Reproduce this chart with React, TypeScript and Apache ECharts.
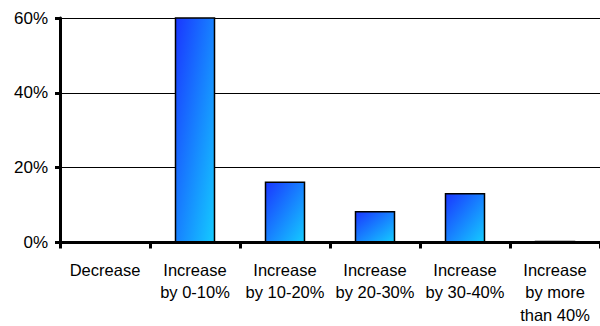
import React, { useEffect, useRef } from "react";
import * as echarts from "echarts";

const categories = [
  "Decrease",
  "Increase\nby 0-10%",
  "Increase\nby 10-20%",
  "Increase\nby 20-30%",
  "Increase\nby 30-40%",
  "Increase\nby more\nthan 40%",
];
const values = [0, 60.5, 16.3, 8.4, 13.2, 0.5];
const yTicks = [0, 20, 40, 60];

export default function App() {
  const ref = useRef<HTMLDivElement>(null);
  useEffect(() => {
    if (!ref.current) return;
    const chart = echarts.init(ref.current, null, { renderer: "svg" });
    chart.setOption({
      animation: false,
      grid: { left: 60, top: 18, width: 550, height: 226 },
      xAxis: {
        type: "category",
        data: categories,
        axisLine: { lineStyle: { color: "#000", width: 3 } },
        axisTick: { show: true, length: 6, lineStyle: { color: "#000", width: 3 } },
        axisLabel: {
          color: "#000",
          fontFamily: "Liberation Sans, Arial, sans-serif",
          fontSize: 16.5,
          lineHeight: 22.5,
          margin: 16,
          interval: 0,
        },
      },
      yAxis: {
        type: "value",
        min: 0,
        max: 60,
        interval: 20,
        axisLine: { show: true, lineStyle: { color: "#000", width: 3 } },
        axisTick: { show: true, length: 5, lineStyle: { color: "#000", width: 3 } },
        axisLabel: {
          color: "#000",
          fontFamily: "Liberation Sans, Arial, sans-serif",
          fontSize: 17,
          margin: 12,
          formatter: (v: number) => (yTicks.includes(v) ? v + "%" : ""),
        },
        splitLine: { show: true, lineStyle: { color: "#000", width: 1 } },
      },
      series: [
        {
          type: "bar",
          data: values,
          barWidth: "45%",
          itemStyle: {
            color: new echarts.graphic.LinearGradient(0, 0, 1, 1, [
              { offset: 0, color: "#1a36ff" },
              { offset: 1, color: "#14ccff" },
            ]),
            borderColor: "#000",
            borderWidth: 1.5,
          },
        },
      ],
    });
    return () => chart.dispose();
  }, []);
  return <div ref={ref} style={{ width: 600, height: 326, position: "absolute", left: 0, top: 0 }} />;
}
